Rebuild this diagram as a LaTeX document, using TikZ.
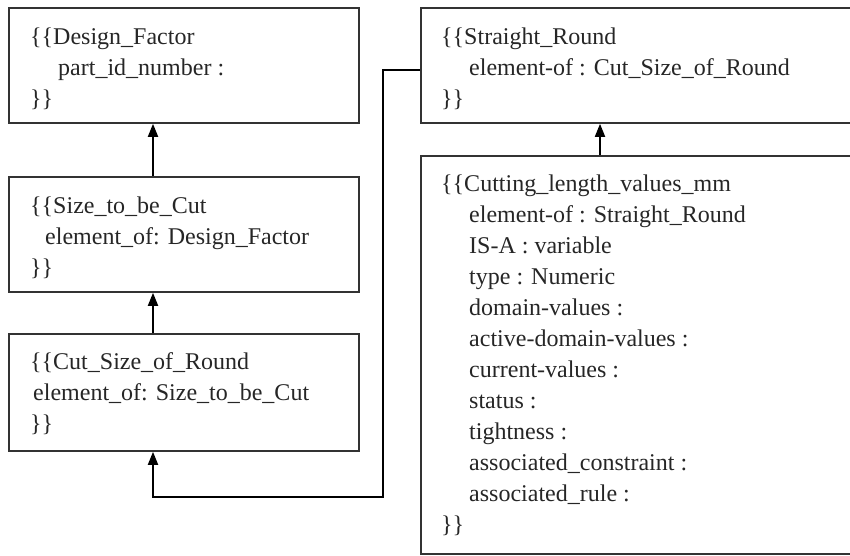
\documentclass[tikz,border=0pt]{standalone}
\usepackage{fontspec}
\setmainfont{Liberation Serif}
\usetikzlibrary{positioning, arrows.meta}
\tikzstyle{pixelGrid} = [x = 1pt, y = -1pt]
\tikzstyle{frameBox} = [draw=black!80, line width=1.8pt, rectangle, anchor=north west, inner sep=0pt]
\tikzstyle{slotText} = [align=left, inner sep=0pt, font=\fontsize{24}{31}\selectfont, text=black!85]
\tikzstyle{flowArrow} = [line width=1.8pt, -{Triangle[length=13pt, width=10pt]}]
\newcommand{\slotIndent}[1]{\hspace*{#1pt}}

\begin{document}
\begin{tikzpicture}[pixelGrid]
  \useasboundingbox (0,0) rectangle (850,555);
  \clip (0,0) rectangle (850,555);

  % frames
  \node[frameBox, minimum width=350pt, minimum height=115pt] (designFactor) at (8,7) {};
  \node[frameBox, minimum width=350pt, minimum height=115pt] (sizeToBeCut) at (8,176) {};
  \node[frameBox, minimum width=350pt, minimum height=117pt] (cutSizeOfRound) at (8,333) {};
  \node[frameBox, minimum width=480pt, minimum height=115pt] (straightRound) at (420,7) {};
  \node[frameBox, minimum width=480pt, minimum height=398pt] (cuttingLength) at (420,155) {};

  % slots
  \node[slotText, below right=20.5pt and 22pt of designFactor.north west] (designFactorSlots)
    {\{\{Design\_Factor\\\slotIndent{28}part\_id\_number :\\\}\}};
  \node[slotText, below right=20.5pt and 22pt of sizeToBeCut.north west] (sizeToBeCutSlots)
    {\{\{Size\_to\_be\_Cut\\\slotIndent{15}element\_of: Design\_Factor\\\}\}};
  \node[slotText, below right=19pt and 22pt of cutSizeOfRound.north west] (cutSizeOfRoundSlots)
    {\{\{Cut\_Size\_of\_Round\\\slotIndent{3}element\_of: Size\_to\_be\_Cut\\\}\}};
  \node[slotText, below right=20.5pt and 21pt of straightRound.north west] (straightRoundSlots)
    {\{\{Straight\_Round\\\slotIndent{28}element-of : Cut\_Size\_of\_Round\\\}\}};
  \node[slotText, below right=19.5pt and 21pt of cuttingLength.north west] (cuttingLengthSlots)
    {\{\{Cutting\_length\_values\_mm\\
     \slotIndent{28}element-of : Straight\_Round\\
     \slotIndent{28}IS-A : variable\\
     \slotIndent{28}type : Numeric\\
     \slotIndent{28}domain-values :\\
     \slotIndent{28}active-domain-values :\\
     \slotIndent{28}current-values :\\
     \slotIndent{28}status :\\
     \slotIndent{28}tightness :\\
     \slotIndent{28}associated\_constraint :\\
     \slotIndent{28}associated\_rule :\\
     \}\}};

  % links
  \coordinate (leftSpine) at (153,0);
  \coordinate (rightSpine) at (600,0);
  \coordinate (loopTop) at (383,70);
  \coordinate (loopBottom) at (383,497);
  \draw[flowArrow] (sizeToBeCut.north -| leftSpine) -- (designFactor.south -| leftSpine);
  \draw[flowArrow] (cutSizeOfRound.north -| leftSpine) -- (sizeToBeCut.south -| leftSpine);
  \draw[flowArrow] (straightRound.west |- loopTop) -- (loopTop) -- (loopBottom) -| (cutSizeOfRound.south -| leftSpine);
  \draw[flowArrow] (cuttingLength.north -| rightSpine) -- (straightRound.south -| rightSpine);
\end{tikzpicture}
\end{document}
